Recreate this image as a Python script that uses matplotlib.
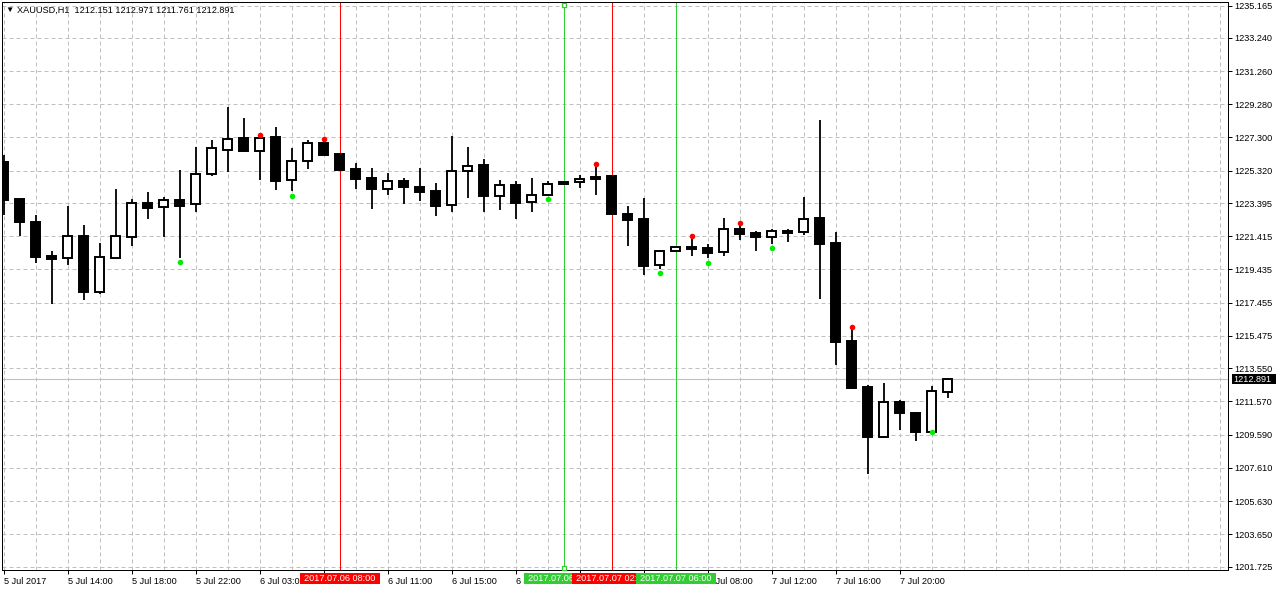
"""
XAUUSD H1 candlestick chart, terminal style
"""

import numpy as np
import matplotlib.pyplot as plt
from matplotlib.patches import Rectangle
from matplotlib.transforms import blended_transform_factory

plt.rcParams['font.family'] = ['Liberation Sans', 'DejaVu Sans']

# hourly bars, 5 Jul 2017 10:00 .. 7 Jul 2017 23:00
opens = [1225.84, 1223.62, 1222.25, 1220.23, 1220.09, 1221.42, 1218.11, 1220.13, 1221.40, 1223.38,
         1223.13, 1223.56, 1223.31, 1225.15, 1226.58, 1227.25, 1226.50, 1227.31, 1224.74, 1225.87,
         1227.00, 1226.30, 1225.41, 1224.87, 1224.24, 1224.69, 1224.34, 1224.10, 1223.25, 1225.31,
         1225.65, 1223.84, 1224.46, 1223.43, 1223.90, 1224.50, 1224.62, 1224.95, 1225.01, 1222.75,
         1222.43, 1219.71, 1220.51, 1220.77, 1220.71, 1220.45, 1221.82, 1221.58, 1221.40, 1221.72,
         1221.64, 1222.49, 1221.00, 1215.17, 1212.45, 1209.48, 1211.54, 1210.89, 1209.78, 1212.151]
highs = [1226.24, 1223.65, 1222.67, 1220.53, 1223.22, 1222.08, 1221.00, 1224.26, 1223.62, 1224.04,
         1223.78, 1225.35, 1226.72, 1227.17, 1229.10, 1228.44, 1227.35, 1227.91, 1226.66, 1227.17,
         1227.10, 1226.35, 1225.76, 1225.47, 1225.21, 1224.91, 1225.47, 1224.57, 1227.39, 1226.76,
         1226.00, 1224.75, 1224.69, 1224.91, 1224.69, 1224.68, 1225.09, 1225.54, 1225.05, 1223.22,
         1223.68, 1220.59, 1220.78, 1221.30, 1220.94, 1222.49, 1222.11, 1221.72, 1221.82, 1221.84,
         1223.74, 1228.32, 1221.66, 1215.99, 1212.56, 1212.67, 1211.66, 1210.97, 1212.51, 1212.971]
lows = [1222.69, 1221.44, 1219.81, 1217.39, 1219.71, 1217.63, 1217.97, 1220.10, 1220.84, 1222.47,
        1221.40, 1220.11, 1222.87, 1225.01, 1225.25, 1226.44, 1224.77, 1224.18, 1224.10, 1225.41,
        1226.18, 1225.30, 1224.22, 1223.03, 1223.86, 1223.32, 1223.52, 1222.63, 1222.87, 1223.70,
        1222.87, 1222.99, 1222.43, 1222.87, 1223.83, 1224.45, 1224.32, 1223.86, 1222.70, 1220.84,
        1219.10, 1219.46, 1220.48, 1220.25, 1220.11, 1220.25, 1221.20, 1220.55, 1220.94, 1221.08,
        1221.50, 1217.67, 1213.75, 1212.32, 1207.26, 1209.46, 1209.90, 1209.24, 1209.72, 1211.761]
closes = [1223.58, 1222.27, 1220.19, 1220.07, 1221.42, 1218.11, 1220.17, 1221.42, 1223.37, 1223.10,
          1223.56, 1223.22, 1225.15, 1226.70, 1227.23, 1226.50, 1227.29, 1224.71, 1225.87, 1227.00,
          1226.26, 1225.37, 1224.81, 1224.22, 1224.69, 1224.35, 1224.06, 1223.22, 1225.33, 1225.63,
          1223.82, 1224.44, 1223.40, 1223.90, 1224.50, 1224.63, 1224.85, 1224.83, 1222.73, 1222.39,
          1219.65, 1220.53, 1220.75, 1220.67, 1220.43, 1221.82, 1221.56, 1221.38, 1221.72, 1221.62,
          1222.47, 1220.96, 1215.13, 1212.38, 1209.48, 1211.53, 1210.91, 1209.78, 1212.18, 1212.891]

# fractal markers
up_idx = [16, 20, 37, 43, 46, 53]
up_price = [1227.43, 1227.20, 1225.73, 1221.42, 1222.19, 1216.03]
down_idx = [11, 18, 34, 41, 44, 48, 58]
down_price = [1219.91, 1223.84, 1223.66, 1219.22, 1219.81, 1220.74, 1209.78]

# vertical lines with their time labels
vline_idx = [21, 35, 38, 42]
vline_colors = ['#FF0000', '#32CD32', '#FF0000', '#32CD32']
vline_labels = ['2017.07.06 08:00', '2017.07.06 22:00', '2017.07.07 02:00', '2017.07.07 06:00']

# axis labels (the ones fully covered by the line labels are left blank)
xtick_idx = list(range(0, 57, 4))
xtick_labels = ['5 Jul 2017', '5 Jul 14:00', '5 Jul 18:00', '5 Jul 22:00', '6 Jul 03:00',
                '', '6 Jul 11:00', '6 Jul 15:00', '6 Jul 19:00', '',
                '', '7 Jul 08:00', '7 Jul 12:00', '7 Jul 16:00', '7 Jul 20:00']
yticks = [1235.165, 1233.240, 1231.260, 1229.280, 1227.300, 1225.320, 1223.395, 1221.415,
          1219.435, 1217.455, 1215.475, 1213.550, 1211.570, 1209.590, 1207.610, 1205.630,
          1203.650, 1201.725]

FS = 6.6
GRID = '#C0C0C0'


def draw_candles(ax):
    x = np.arange(len(opens))
    o = np.array(opens)
    c = np.array(closes)
    ax.vlines(x, lows, highs, color='black', lw=1.3, zorder=3)
    bull = c >= o
    bottom = np.minimum(o, c)
    height = np.abs(c - o)
    ax.bar(x, height, width=0.58, bottom=bottom, color=np.where(bull, 'white', 'black'),
           edgecolor='black', linewidth=1.4, zorder=4)


def draw_vlines(ax):
    trans = blended_transform_factory(ax.transData, ax.transAxes)
    for k, (i, col, lab) in enumerate(zip(vline_idx, vline_colors, vline_labels)):
        ax.axvline(i, color=col, lw=0.72, zorder=2)
        z = 10 + k
        ax.add_patch(Rectangle((i - 2.5, -0.0246), 5, 0.0194, transform=trans,
                               facecolor=col, edgecolor='none', clip_on=False, zorder=z))
        ax.text(i, -0.0149, lab, transform=trans, ha='center', va='center', color='white',
                fontsize=FS, clip_on=False, zorder=z + 0.5)
        if k == 1:
            ax.plot([i, i], [0.9947, 0.0044], transform=trans, ls='none', marker='s', ms=3.2,
                    mfc='white', mec=col, mew=0.9, clip_on=False, zorder=6)


if __name__ == '__main__':
    fig = plt.figure(figsize=(12.76, 5.91), dpi=100)
    ax = fig.add_axes([2 / 1276, 21 / 591, 1226 / 1276, 568 / 591])
    ax.set_xlim(-0.094, 76.53)
    ax.set_ylim(1201.528, 1235.374)

    # grid
    ax.set_xticks(xtick_idx)
    ax.set_xticklabels(xtick_labels, ha='left')
    ax.set_xticks(np.arange(0, 77, 2), minor=True)
    ax.set_yticks(yticks)
    ax.set_yticklabels(['%.3f' % v for v in yticks])
    ax.set_axisbelow(True)
    ax.grid(which='both', axis='x', color=GRID, lw=0.72, linestyle=(0, (4, 3)))
    ax.grid(which='major', axis='y', color=GRID, lw=0.72, linestyle=(0, (4, 3)))
    ax.yaxis.tick_right()
    ax.tick_params(axis='y', direction='out', length=2.9, width=0.72, labelsize=FS, pad=1.5)
    ax.tick_params(axis='x', which='major', direction='out', length=2.9, width=0.72,
                   labelsize=FS, pad=2.5)
    ax.tick_params(axis='x', which='minor', length=0)
    for sp in ax.spines.values():
        sp.set_linewidth(0.72)
        sp.set_color('black')

    # bid line
    bid = closes[-1]
    ax.axhline(bid, color=GRID, lw=0.8, zorder=1.5)

    draw_vlines(ax)
    draw_candles(ax)

    ax.scatter(up_idx, up_price, s=16, color='#FF0000', zorder=5, linewidths=0)
    ax.scatter(down_idx, down_price, s=16, color='#00EE00', zorder=5, linewidths=0)

    # bid price label on the price scale
    trans = blended_transform_factory(ax.transAxes, ax.transData)
    ax.add_patch(Rectangle((1.0033, bid - 0.30), 0.04, 0.60, transform=trans, facecolor='black',
                           edgecolor='none', clip_on=False, zorder=10))
    ax.text(1.0045, bid, '%.3f' % bid, transform=trans, ha='left', va='center', color='white',
            fontsize=FS, clip_on=False, zorder=11)

    # symbol header
    fig.text(9 / 1276, 1 - 10 / 591, '\u25bc', ha='center', va='center', fontsize=6)
    fig.text(17 / 1276, 1 - 10 / 591,
             'XAUUSD,H1  %.3f %.3f %.3f %.3f' % (opens[-1], highs[-1], lows[-1], closes[-1]),
             ha='left', va='center', fontsize=FS)

    fig.savefig('out.png', dpi=100)
